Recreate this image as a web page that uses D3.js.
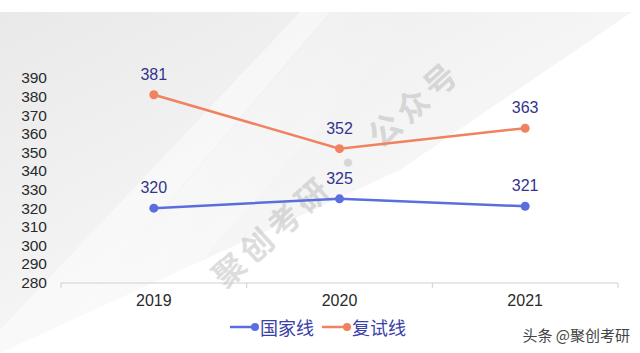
<!DOCTYPE html>
<head>
  <meta charset="utf-8">
  <title>国家线 vs 复试线</title>
  <script src="https://d3js.org/d3.v7.min.js"></script>
  <style>
  body {margin: 0; background: white;}
  #chart {display: block;}
  .num {font-family: "Liberation Sans", "Noto Sans", sans-serif;}
  .cjk {font-family: "Noto Sans CJK SC", sans-serif;}
  </style>
</head>
<body>
  <svg id="chart" width="640" height="353"></svg>
  <script>
  var years = ["2019", "2020", "2021"];
  var nationalLine = [320, 325, 321];   // 国家线
  var retestLine = [381, 352, 363];     // 复试线
  var yTicks = [280, 290, 300, 310, 320, 330, 340, 350, 360, 370, 380, 390];
  var seriesNames = ["国家线", "复试线"];
  var seriesColors = ["#5a6ee0", "#f0825f"];

  var svg = d3.select("#chart");
  var defs = svg.append("defs");

  // background: grey sheet fading out with light diagonal streaks
  var g1 = defs.append("linearGradient").attr("id", "bgGrad")
    .attr("x1", "0").attr("y1", "0").attr("x2", "1").attr("y2", "1");
  g1.append("stop").attr("offset", "0%").attr("stop-color", "#e9e9e9");
  g1.append("stop").attr("offset", "50%").attr("stop-color", "#f5f5f5");
  g1.append("stop").attr("offset", "100%").attr("stop-color", "#ffffff");

  var g2 = defs.append("linearGradient").attr("id", "streak")
    .attr("x1", "0").attr("y1", "0").attr("x2", "1").attr("y2", "0");
  g2.append("stop").attr("offset", "0%").attr("stop-color", "#ffffff").attr("stop-opacity", 0.9);
  g2.append("stop").attr("offset", "100%").attr("stop-color", "#ffffff").attr("stop-opacity", 0);

  svg.append("polygon")
    .attr("points", "0,12 632,12 400,170 0,353")
    .attr("fill", "url(#bgGrad)");
  svg.append("polygon")
    .attr("points", "330,12 300,12 0,330 0,353 40,353")
    .attr("fill", "#ffffff").attr("opacity", 0.45);
  svg.append("polygon")
    .attr("points", "332,12 420,12 120,353 40,353")
    .attr("fill", "url(#streak)").attr("opacity", 0.6);

  var x = d3.scaleBand().domain(years).range([61, 618]);
  var y = d3.scaleLinear().domain([280, 390]).range([282.5, 78]);

  // watermark
  svg.append("text")
    .attr("class", "cjk")
    .attr("transform", "translate(335,172) rotate(-42)")
    .attr("text-anchor", "middle")
    .attr("dominant-baseline", "central")
    .attr("font-size", 32)
    .attr("letter-spacing", 5)
    .attr("font-weight", "bold")
    .attr("fill", "#a0a0a0")
    .attr("opacity", 0.35)
    .text("聚创考研 · 公众号");

  // y axis labels only
  var yAxis = svg.append("g")
    .attr("transform", "translate(47,0)")
    .call(d3.axisLeft(y).tickValues(yTicks).tickSize(0).tickPadding(0));
  yAxis.select(".domain").remove();
  yAxis.selectAll("text")
    .attr("class", "num")
    .attr("font-size", 15.5)
    .attr("fill", "#2a2a2a");

  // x axis: line with ticks on band edges
  svg.append("line")
    .attr("x1", x.range()[0]).attr("x2", x.range()[1])
    .attr("y1", 283).attr("y2", 283)
    .attr("stroke", "#d0d0d0").attr("stroke-width", 1);
  var edges = years.map(function(d) { return x(d); }).concat([x.range()[1]]);
  svg.selectAll("line.tick").data(edges).enter().append("line")
    .attr("class", "tick")
    .attr("x1", function(d) { return d; }).attr("x2", function(d) { return d; })
    .attr("y1", 283).attr("y2", 288)
    .attr("stroke", "#d0d0d0");
  svg.selectAll("text.xlab").data(years).enter().append("text")
    .attr("class", "xlab num")
    .attr("x", function(d) { return x(d) + x.bandwidth() / 2; })
    .attr("y", 306)
    .attr("text-anchor", "middle")
    .attr("font-size", 16)
    .attr("fill", "#2a2a2a")
    .text(function(d) { return d; });

  // lines
  var series = [nationalLine, retestLine];
  var lineGen = d3.line()
    .x(function(d, i) { return x(years[i]) + x.bandwidth() / 2; })
    .y(function(d) { return y(d); });

  series.forEach(function(values, s) {
    svg.append("path")
      .datum(values)
      .attr("d", lineGen)
      .attr("fill", "none")
      .attr("stroke", seriesColors[s])
      .attr("stroke-width", 2.5);
    svg.selectAll("circle.s" + s).data(values).enter().append("circle")
      .attr("class", "s" + s)
      .attr("cx", function(d, i) { return x(years[i]) + x.bandwidth() / 2; })
      .attr("cy", function(d) { return y(d); })
      .attr("r", 4.5)
      .attr("fill", seriesColors[s]);
    svg.selectAll("text.v" + s).data(values).enter().append("text")
      .attr("class", "v" + s + " num")
      .attr("x", function(d, i) { return x(years[i]) + x.bandwidth() / 2; })
      .attr("y", function(d) { return y(d) - 15; })
      .attr("text-anchor", "middle")
      .attr("font-size", 16)
      .attr("fill", "#34348c")
      .text(function(d) { return d; });
  });

  // legend
  var legendX = [230, 322];
  seriesNames.forEach(function(name, s) {
    var lg = svg.append("g").attr("transform", "translate(" + legendX[s] + ",327)");
    lg.append("line")
      .attr("x1", 0).attr("x2", 25).attr("y1", 0).attr("y2", 0)
      .attr("stroke", seriesColors[s]).attr("stroke-width", 2.5);
    lg.append("circle").attr("cx", 25).attr("cy", 0).attr("r", 4)
      .attr("fill", seriesColors[s]);
    lg.append("text")
      .attr("class", "cjk")
      .attr("x", 30).attr("y", 0)
      .attr("dominant-baseline", "central")
      .attr("font-size", 18)
      .attr("fill", "#3b40a8")
      .text(name);
  });

  // source tag
  svg.append("text")
    .attr("class", "cjk")
    .attr("x", 630).attr("y", 334)
    .attr("text-anchor", "end")
    .attr("dominant-baseline", "central")
    .attr("font-size", 15)
    .attr("fill", "#444")
    .text("头条 @聚创考研");
  </script>
</body>
